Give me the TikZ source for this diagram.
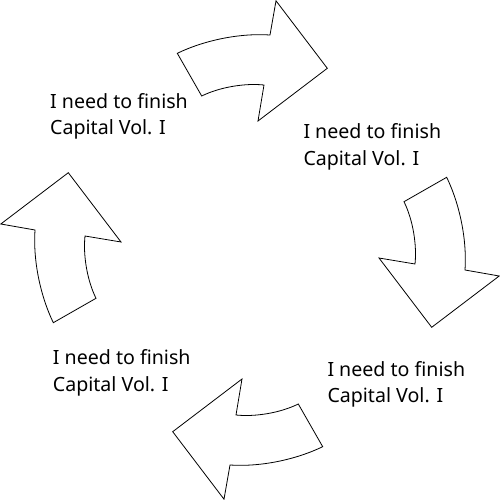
\documentclass[tikz,border=0pt]{standalone}
\usepackage{fontspec}
\setmainfont{Noto Sans}
\begin{document}
\begin{tikzpicture}[x=1pt,y=-1pt,
  arrowline/.style={draw=black,line width=0.8pt,fill=white,line join=miter},
  lbl/.style={anchor=base west,inner sep=0pt,align=left,font=\fontsize{19.6}{26.7}\selectfont},
  cyclearrow/.pic={
    \path[arrowline] (177.3,53.3) .. controls (205,40) and (240,33) .. (270,35)
      -- (276,0.8) -- (327.3,68.3) -- (258,121) -- (264,85)
      .. controls (245,83) and (220,87) .. (201.7,96) -- cycle;
  }]
\useasboundingbox (0,0) rectangle (500,500);
\pic[rotate around={0:(250,250)}] {cyclearrow};
\pic[rotate around={-90:(250,250)}] {cyclearrow};
\pic[rotate around={-180:(250,250)}] {cyclearrow};
\pic[rotate around={-270:(250,250)}] {cyclearrow};
\node[lbl] (l1) at (50,135) {I need to finish\\Capital Vol. I};
\node[lbl] (l2) at (303.3,165.4) {I need to finish\\Capital Vol. I};
\node[lbl] (l3) at (327.3,402.7) {I need to finish\\Capital Vol. I};
\node[lbl] (l4) at (52.7,391.4) {I need to finish\\Capital Vol. I};
\end{tikzpicture}
\end{document}
